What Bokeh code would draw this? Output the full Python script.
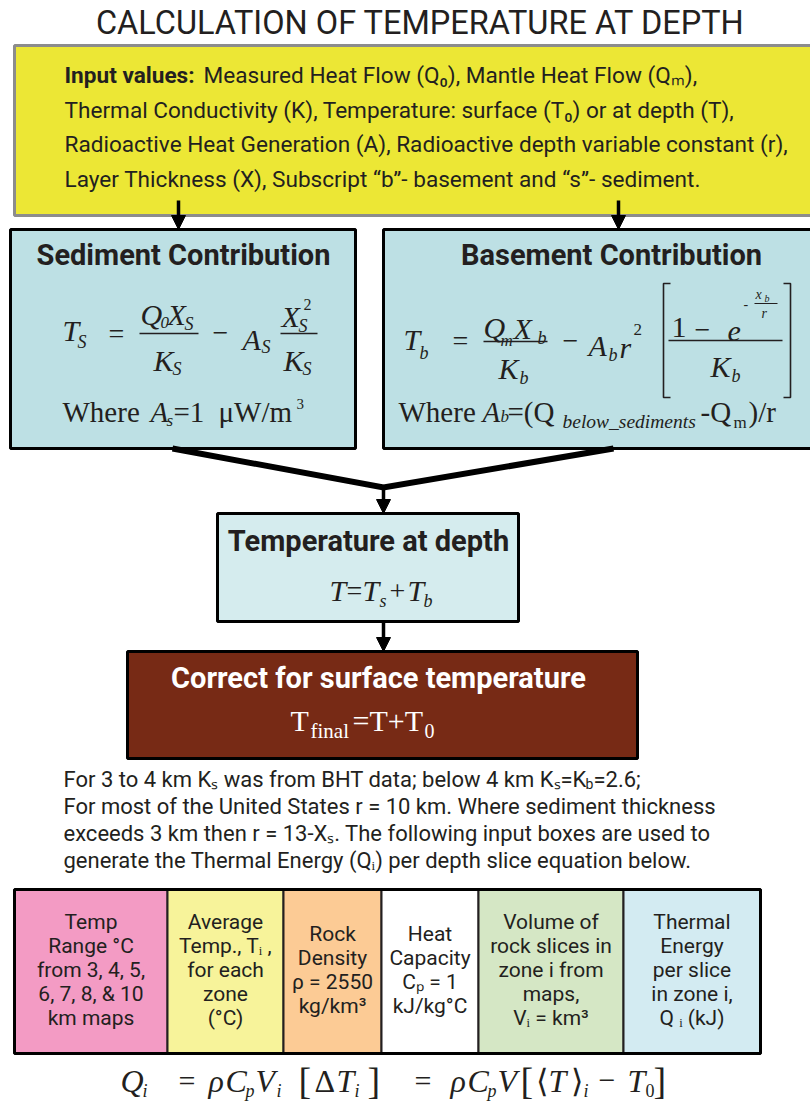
from bokeh.plotting import figure
from bokeh.models import Range1d, Arrow, NormalHead
from bokeh.core.properties import value
from bokeh.embed import file_html
from bokeh.resources import INLINE

# ---------------- content ----------------
title_text = "CALCULATION OF TEMPERATURE AT DEPTH"
input_bold = "Input values:"
input_lines = [
    "Measured Heat Flow (Q\u2080), Mantle Heat Flow (Q\u2098),",
    "Thermal Conductivity (K), Temperature: surface (T\u2080) or at depth (T),",
    "Radioactive Heat Generation (A), Radioactive depth variable constant (r),",
    "Layer Thickness (X), Subscript \u201cb\u201d- basement and \u201cs\u201d- sediment.",
]
box_titles = ["Sediment Contribution", "Basement Contribution",
              "Temperature at depth", "Correct for surface temperature"]
para_first = ["For 3 to 4 km K\u209b was from BHT data; below 4 km K\u209b=K", "b", "=2.6;"]
para_lines = [
    "For most of the United States r = 10 km. Where sediment thickness",
    "exceeds 3 km then r = 13-X\u209b.  The following input boxes are used to",
    "generate the Thermal Energy (Q\u1d62) per depth slice equation below.",
]
cell_labels = [
    ["Temp", "Range \u00b0C", "from 3, 4, 5,", "6, 7, 8, & 10", "km maps"],
    ["Average", "Temp., T\u1d62 ,", "for each", "zone", "(\u00b0C)"],
    ["Rock", "Density", "\u03c1 = 2550", "kg/km\u00b3"],
    ["Heat", "Capacity", "C\u209a = 1", "kJ/kg\u00b0C"],
    ["Volume of", "rock slices in", "zone i from", "maps,", "V\u1d62 = km\u00b3"],
    ["Thermal", "Energy", "per slice", "in zone i,", "Q \u1d62 (kJ)"],
]
cell_edges = [14, 167, 283, 381, 478, 623, 760]

# ---------------- style ----------------
DARK = "#231f20"
SANS = "Roboto"
SERIF = "Liberation Serif"
IT = "italic"
cell_colors = ["#f39bc4", "#f7f39a", "#fccb95", "#ffffff", "#d5e7c5", "#d3ebf2"]

p = figure(width=810, height=1107, x_range=Range1d(0, 810), y_range=Range1d(1107, 0),
           output_backend="svg", toolbar_location=None, min_border=0)
p.axis.visible = False
p.grid.visible = False
p.outline_line_color = None
p.background_fill_color = "white"
p.border_fill_color = "white"


def T(x, y, s, size, font=SANS, style="normal", color=DARK, align="left"):
    p.text(x=[x], y=[y], text=[s], text_font=value(font), text_font_size=f"{size}px",
           text_font_style=style, text_color=color, text_align=align, text_baseline="middle")


def box(l, r, t, b, fill, line="black", lw=3):
    p.quad(left=[l], right=[r], top=[t], bottom=[b], fill_color=fill, line_color=line, line_width=lw)


def arrow(x, y0, y1):
    p.add_layout(Arrow(end=NormalHead(size=14, fill_color="black", line_color="black", line_width=1),
                       x_start=x, y_start=y0, x_end=x, y_end=y1, line_width=3.5, line_color="black"))


def hbar(x0, x1, y, lw=1.3):
    p.line([x0, x1], [y, y], line_color=DARK, line_width=lw)


# title
T(420, 22, title_text, 32.5, align="center")

# yellow input box
box(14, 830, 45, 215, "#ece735", line="#8c8c8c", lw=3)
T(64, 75, input_bold, 22.6, style="bold")
T(203, 75, input_lines[0], 22.6)
for i, s in enumerate(input_lines[1:]):
    T(64, 109.5 + 34.5 * i, s, 22.6)

arrow(178, 200, 229)
arrow(618, 200, 229)

# sediment / basement boxes
box(10, 355, 229, 448, "#bde0e4")
box(383, 830, 229, 448, "#bde0e4")
T(183, 254, box_titles[0], 29, style="bold", align="center")
T(611, 254, box_titles[1], 29, style="bold", align="center")

# --- sediment formula
T(62, 330, "T", 30, SERIF, IT)
T(77, 341, "S", 18, SERIF, IT)
T(108, 333, "=", 28, SERIF)
T(140, 314, "Q", 30, SERIF, IT)
T(160, 322, "0", 17, SERIF, IT)
T(167, 314, "X", 30, SERIF, IT)
T(184, 323, "S", 18, SERIF, IT)
hbar(139, 198, 333)
T(153, 360, "K", 30, SERIF, IT)
T(172, 368, "S", 18, SERIF, IT)
T(212, 332, "\u2212", 28, SERIF)
T(242, 339, "A", 30, SERIF, IT)
T(261, 346, "S", 18, SERIF, IT)
T(281, 316, "X", 30, SERIF, IT)
T(298, 325, "S", 18, SERIF, IT)
T(303, 304, "2", 16, SERIF)
hbar(280, 317, 333)
T(283, 360, "K", 30, SERIF, IT)
T(302, 368, "S", 18, SERIF, IT)
T(62, 411, "Where", 29, SERIF)
T(150, 411, "A", 29, SERIF, IT)
T(166, 420, "s", 17, SERIF, IT)
T(173, 411, "=1", 29, SERIF)
T(218, 411, "\u03bcW/m", 29, SERIF)
T(296, 403, "3", 15, SERIF)

# --- basement formula
T(403, 339, "T", 30, SERIF, IT)
T(419, 352, "b", 18, SERIF, IT)
T(452, 340, "=", 28, SERIF)
T(483, 327, "Q", 30, SERIF, IT)
T(500, 340, "m", 17, SERIF, IT)
T(513, 328, "X", 30, SERIF, IT)
T(537, 337, "b", 18, SERIF, IT)
hbar(483, 547, 341)
T(498, 368, "K", 30, SERIF, IT)
T(519, 377, "b", 18, SERIF, IT)
T(562, 340, "\u2212", 28, SERIF)
T(588, 345, "A", 30, SERIF, IT)
T(608, 354, "b", 18, SERIF, IT)
T(619, 347, "r", 30, SERIF, IT)
T(633, 329, "2", 17, SERIF)
# brackets
p.line([670, 663, 663, 670], [283, 283, 397, 397], line_color=DARK, line_width=1.6)
p.line([783, 790, 790, 783], [283, 283, 397, 397], line_color=DARK, line_width=1.6)
T(671, 327, "1", 30, SERIF)
T(694, 329, "\u2212", 28, SERIF)
T(727, 331, "e", 30, SERIF, IT)
T(743, 303, "-", 14, SERIF)
T(755, 294, "x", 14, SERIF, IT)
T(764, 298, "b", 10, SERIF, IT)
hbar(754, 777, 303, 1)
T(761, 313, "r", 14, SERIF, IT)
hbar(668, 782, 340)
T(710, 366, "K", 30, SERIF, IT)
T(731, 375, "b", 18, SERIF, IT)
T(398, 411, "Where", 29, SERIF)
T(482, 411, "A", 29, SERIF, IT)
T(500, 416, "b", 17, SERIF, IT)
T(507, 411, "=(Q", 29, SERIF)
T(562, 421, "below_sediments", 19.5, SERIF, IT)
T(700, 411, "-Q", 29, SERIF)
T(733, 422, "m", 17, SERIF)
T(748, 411, ")/r", 29, SERIF)

# funnel
p.line([172, 383, 613], [448, 487, 448], line_color="black", line_width=6, line_join="miter")
arrow(383, 486, 513)

# temperature at depth box
box(217, 518, 513, 621, "#d5ecee")
T(368, 540, box_titles[2], 29, style="bold", align="center")
T(329, 590, "T", 30, SERIF, IT)
T(346, 590, "=", 28, SERIF)
T(362, 590, "T", 30, SERIF, IT)
T(379, 600, "s", 18, SERIF, IT)
T(389, 590, "+", 28, SERIF)
T(407, 590, "T", 30, SERIF, IT)
T(423, 600, "b", 18, SERIF, IT)
arrow(383, 621, 651)

# brown box
box(127, 637, 651, 758, "#772a15")
T(378, 677, box_titles[3], 29, style="bold", color="white", align="center")
T(290, 720, "T", 30, SERIF, color="white")
T(310, 730, "final", 21, SERIF, color="white")
T(352, 720, "=T+T", 30, SERIF, color="white")
T(424, 730, "0", 20, SERIF, color="white")

# paragraph
T(63, 779, para_first[0], 22)
T(585, 783, para_first[1], 14)
T(593, 779, para_first[2], 22)
for i, s in enumerate(para_lines):
    T(63, 806 + 27 * i, s, 22)

# table
for i in range(6):
    box(cell_edges[i], cell_edges[i + 1], 889, 1053, cell_colors[i], line="#231f20", lw=2)
p.quad(left=[cell_edges[0]], right=[cell_edges[-1]], top=[889], bottom=[1053],
       fill_color=None, line_color="black", line_width=3)
for i, labels in enumerate(cell_labels):
    cx = (cell_edges[i] + cell_edges[i + 1]) / 2
    n = len(labels)
    y0 = 969 - (n - 1) / 2 * 24
    for j, s in enumerate(labels):
        T(cx, y0 + 24 * j, s, 21, align="center")

# bottom equation
yb = 1080
ys = 1090
T(120, yb, "Q", 32, SERIF, IT)
T(142, ys, "i", 18, SERIF, IT)
T(178, yb, "=", 30, SERIF)
T(208, yb, "\u03c1", 32, SERIF, IT)
T(225, yb, "C", 32, SERIF, IT)
T(245, ys, "p", 18, SERIF, IT)
T(255, yb, "V", 32, SERIF, IT)
T(276, ys, "i", 18, SERIF, IT)
T(298, yb, "[", 38, SERIF)
T(314, yb, "\u0394", 32, SERIF)
T(336, yb, "T", 32, SERIF, IT)
T(354, ys, "i", 18, SERIF, IT)
T(367, yb, "]", 38, SERIF)
T(414, yb, "=", 30, SERIF)
T(450, yb, "\u03c1", 32, SERIF, IT)
T(467, yb, "C", 32, SERIF, IT)
T(487, ys, "p", 18, SERIF, IT)
T(497, yb, "V", 32, SERIF, IT)
T(520, yb, "[", 38, SERIF)
T(535, yb, "\u27e8", 32, SERIF)
T(548, yb, "T", 32, SERIF, IT)
T(570, yb, "\u27e9", 32, SERIF)
T(583, ys, "i", 18, SERIF, IT)
T(598, yb, "\u2212", 30, SERIF)
T(627, yb, "T", 32, SERIF, IT)
T(645, ys, "0", 18, SERIF)
T(653, yb, "]", 38, SERIF)

open("out.html", "w").write(file_html(p, INLINE))
